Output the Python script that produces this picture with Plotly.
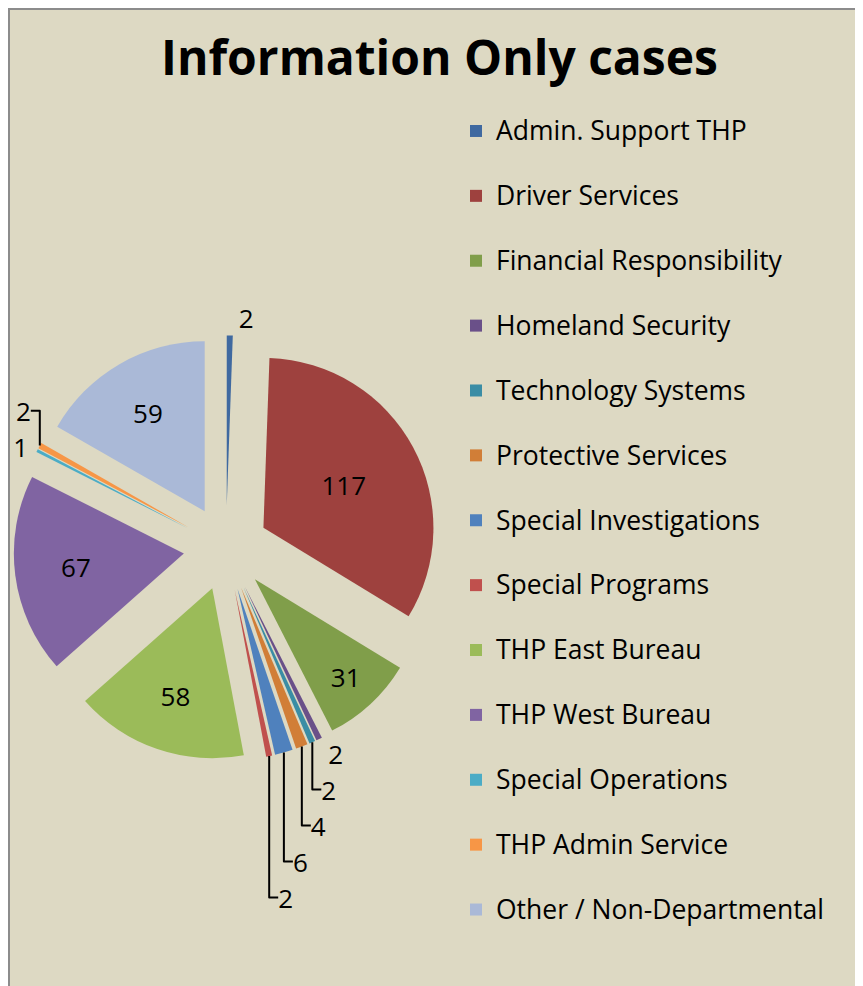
import plotly.graph_objects as go

departments = [
    "Admin. Support THP",
    "Driver Services",
    "Financial Responsibility",
    "Homeland Security",
    "Technology Systems",
    "Protective Services",
    "Special Investigations",
    "Special Programs",
    "THP East Bureau",
    "THP West Bureau",
    "Special Operations",
    "THP Admin Service",
    "Other / Non-Departmental",
]
cases = [2, 117, 31, 2, 2, 4, 6, 2, 58, 67, 1, 2, 59]
colors = [
    "#3F69A0", "#9E413E", "#809E4A", "#6A5089", "#3A8DA5", "#D17E37",
    "#4F81BD", "#C0504D", "#9BBB59", "#8064A2", "#4BACC6", "#F79646",
    "#AAB9D7",
]

W, H = 863, 986
bg = "#DDD9C3"

# big slices get their numbers inside, the thin ones outside
text_pos = ["inside" if v >= 20 else "outside" for v in cases]

# legend line spacing comes from the legend font; the text itself is a bit bigger
legend_labels = ["<span style='font-size:26.5px'>%s</span><br> " % d for d in departments]

fig = go.Figure(
    go.Pie(
        labels=legend_labels,
        values=cases,
        sort=False,
        direction="clockwise",
        rotation=0,
        pull=0.25,
        marker=dict(colors=colors, line=dict(width=0)),
        textinfo="value",
        textposition=text_pos,
        insidetextorientation="horizontal",
        textfont=dict(family="Open Sans", size=26, color="black"),
        hovertext=departments,
        hoverinfo="text+value",
        domain=dict(x=[5.5 / W, 430.5 / W], y=[233.5 / H, 658.5 / H]),
    )
)

fig.add_shape(
    type="rect", xref="paper", yref="paper",
    x0=1 / W, x1=1.02, y0=-0.02, y1=1 - 1 / H,
    fillcolor=bg, line=dict(color="#8C8C8C", width=2), layer="below",
)

fig.update_layout(
    width=W,
    height=H,
    margin=dict(l=0, r=0, t=0, b=0, autoexpand=False),
    paper_bgcolor="white",
    plot_bgcolor=bg,
    title=dict(
        text="<b>Information Only cases</b>",
        x=431.5 / W, xanchor="center",
        y=1 - 50 / H, yanchor="middle",
        font=dict(family="Open Sans", size=48, color="black"),
    ),
    legend=dict(
        xref="container", yref="container",
        x=448 / W, xanchor="left",
        y=1 - 101 / H, yanchor="top",
        valign="top",
        maxheight=900,
        bgcolor="rgba(0,0,0,0)",
        font=dict(family="Open Sans", size=23.8, color="black"),
    ),
    showlegend=True,
)

fig.write_html("out.html")
